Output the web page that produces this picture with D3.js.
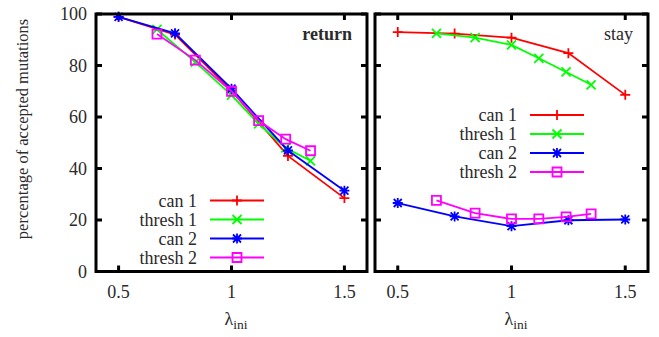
<!DOCTYPE html>
<html>
<head>
<meta charset="utf-8">
<script src="https://cdn.jsdelivr.net/npm/d3@7"></script>
<style>
  body { margin: 0; background: #fff; }
</style>
</head>
<body>
<script>
// data
var xCan = [0.5, 0.75, 1.0, 1.25, 1.5];
var xThresh = [0.67, 0.84, 1.0, 1.12, 1.24, 1.35];

var returnCan1    = [98.9, 92.0, 70.2, 44.9, 28.5];
var returnThresh1 = [94.0, 81.3, 68.5, 57.3, 48.0, 43.0];
var returnCan2    = [98.9, 92.5, 71.0, 47.0, 31.4];
var returnThresh2 = [92.2, 82.1, 70.0, 58.6, 51.4, 46.9];

var stayCan1    = [93.0, 92.4, 90.8, 84.8, 68.6];
var stayThresh1 = [92.5, 90.8, 88.0, 82.8, 77.5, 72.5];
var stayCan2    = [26.6, 21.4, 17.6, 19.9, 20.2];
var stayThresh2 = [27.6, 22.7, 20.4, 20.4, 21.2, 22.4];

var seriesNames = ["can 1", "thresh 1", "can 2", "thresh 2"];
var seriesColors = ["#ff0000", "#00ff00", "#0000ff", "#ff00ff"];
var seriesSymbols = ["plus", "cross", "star", "square"];

var yTicks = [0, 20, 40, 60, 80, 100];
var xTicks = [0.5, 1, 1.5];

var width = 659, height = 337;
var font = "'Liberation Serif', 'Times New Roman', serif";

var panels = [
  { title: "return", bold: true, left: 96, right: 367, labels: true,
    legendX: 197, legendY: 200.5,
    series: [[xCan, returnCan1], [xThresh, returnThresh1], [xCan, returnCan2], [xThresh, returnThresh2]] },
  { title: "stay", bold: false, left: 375, right: 648, labels: false,
    legendX: 517, legendY: 115,
    series: [[xCan, stayCan1], [xThresh, stayThresh1], [xCan, stayCan2], [xThresh, stayThresh2]] }
];

var plotTop = 14, plotBottom = 271.5;

var svg = d3.select("body").append("svg")
    .attr("width", width)
    .attr("height", height)
    .style("font-family", font);

var y = d3.scaleLinear().domain([0, 100]).range([plotBottom, plotTop]);

function symbol(g, type, color) {
  var p;
  if (type == "plus") p = "M-5,0H5M0,-5V5";
  else if (type == "cross") p = "M-4.5,-4.5L4.5,4.5M-4.5,4.5L4.5,-4.5";
  else if (type == "star") p = "M-5,0H5M0,-5V5M-4,-4L4,4M-4,4L4,-4";
  else p = "M-4.5,-4.5H4.5V4.5H-4.5Z";
  g.append("path").attr("d", p)
      .attr("fill", "none")
      .attr("stroke", color)
      .attr("stroke-width", 1.8);
}

function label(g, x, yy, str, anchor, size) {
  return g.append("text")
      .attr("x", x).attr("y", yy)
      .attr("text-anchor", anchor)
      .attr("fill", "#2a2a2a")
      .style("font-family", font)
      .style("font-size", (size || 18) + "px")
      .text(str);
}

panels.forEach(function(panel) {
  var x = d3.scaleLinear().domain([0.4, 1.6]).range([panel.left, panel.right]);
  var g = svg.append("g");

  // ticks (inward, on all four sides)
  yTicks.forEach(function(t) {
    g.append("line").attr("x1", panel.left).attr("x2", panel.left + 6)
        .attr("y1", y(t)).attr("y2", y(t)).attr("stroke", "#000").attr("stroke-width", 3);
    g.append("line").attr("x1", panel.right).attr("x2", panel.right - 6)
        .attr("y1", y(t)).attr("y2", y(t)).attr("stroke", "#000").attr("stroke-width", 3);
    if (panel.labels) label(g, panel.left - 9, y(t) + 6, t, "end");
  });
  xTicks.forEach(function(t) {
    g.append("line").attr("x1", x(t)).attr("x2", x(t))
        .attr("y1", plotBottom).attr("y2", plotBottom - 6).attr("stroke", "#000").attr("stroke-width", 3);
    g.append("line").attr("x1", x(t)).attr("x2", x(t))
        .attr("y1", plotTop).attr("y2", plotTop + 6).attr("stroke", "#000").attr("stroke-width", 3);
    label(g, x(t), 298, t, "middle");
  });

  // x label: lambda_ini
  var xl = label(g, x(1) - 7, 325, "", "start");
  xl.append("tspan").text("λ");
  xl.append("tspan").attr("dy", 4).style("font-size", "13.5px").text("ini");

  // title
  label(g, panel.right - 15, 40, panel.title, "end")
      .style("font-weight", panel.bold ? "bold" : "normal");

  // series
  var line = d3.line()
      .x(function(d) { return x(d[0]); })
      .y(function(d) { return y(d[1]); });

  panel.series.forEach(function(s, i) {
    var pts = s[0].map(function(v, j) { return [v, s[1][j]]; });
    g.append("path").datum(pts)
        .attr("d", line)
        .attr("fill", "none")
        .attr("stroke", seriesColors[i])
        .attr("stroke-width", 1.8);
    pts.forEach(function(d) {
      symbol(g.append("g").attr("transform", "translate(" + x(d[0]) + "," + y(d[1]) + ")"),
          seriesSymbols[i], seriesColors[i]);
    });

    // legend
    var ly = panel.legendY + i * 19;
    label(g, panel.legendX, ly + 6, seriesNames[i], "end");
    g.append("line").attr("x1", panel.legendX + 13).attr("x2", panel.legendX + 67)
        .attr("y1", ly).attr("y2", ly)
        .attr("stroke", seriesColors[i]).attr("stroke-width", 1.8);
    symbol(g.append("g").attr("transform", "translate(" + (panel.legendX + 40) + "," + ly + ")"),
        seriesSymbols[i], seriesColors[i]);
  });

  // frame
  g.append("rect")
      .attr("x", panel.left).attr("y", plotTop)
      .attr("width", panel.right - panel.left).attr("height", plotBottom - plotTop)
      .attr("fill", "none").attr("stroke", "#000").attr("stroke-width", 3);
});

// y axis label
label(svg, 0, 0, "percentage of accepted mutations", "middle", 16.5)
    .attr("transform", "translate(28,129) rotate(-90)");
</script>
</body>
</html>
